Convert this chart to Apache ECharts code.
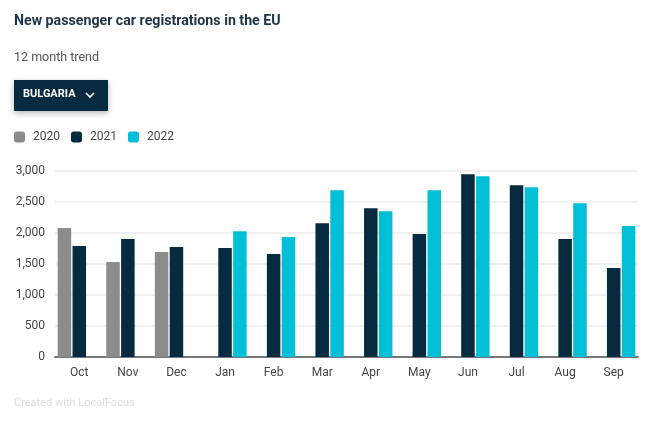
<!DOCTYPE html>
<html><head><meta charset="utf-8">
<script src="https://cdn.jsdelivr.net/npm/echarts@6/dist/echarts.min.js"></script>
<style>html,body{margin:0;padding:0;background:#fff}#c{width:672px;height:428px}</style>
</head><body><div id="c"></div>
<script>
const categories = ['Oct','Nov','Dec','Jan','Feb','Mar','Apr','May','Jun','Jul','Aug','Sep'];
const s2020 = [2080, 1532, 1693, null, null, null, null, null, null, null, null, null];
const s2021 = [1790, 1902, 1773, 1757, 1660, 2159, 2400, 1982, 2947, 2770, 1902, 1436];
const s2022 = [null, null, null, 2030, 1934, 2690, 2352, 2690, 2915, 2738, 2481, 2111];
const yTicks = [0, 500, 1000, 1500, 2000, 2500, 3000];

const chart = echarts.init(document.getElementById('c'));
const F = 'Roboto, sans-serif';
chart.setOption({
  animation: false,
  textStyle: {fontFamily: F},
  graphic: [
    {type:'text', left:14, top:14, style:{text:'New passenger car registrations in the EU', fill:'#1f3344', font:'bold 14.2px Roboto'}},
    {type:'text', left:14, top:51, style:{text:'12 month trend', fill:'#555', font:'12.5px Roboto'}},
    {type:'rect', shape:{x:14,y:80,width:94,height:31}, style:{fill:'#062b40', shadowBlur:6, shadowColor:'rgba(0,0,0,0.3)', shadowOffsetY:2}},
    {type:'text', left:23, top:89, style:{text:'BULGARIA', fill:'#fff', font:'bold 11px Roboto'}},
    {type:'polyline', shape:{points:[[86,93],[90,97],[94,93]]}, style:{stroke:'#fff', lineWidth:1.6, fill:null}},
    {type:'text', left:14, top:398, style:{text:'Created with LocalFocus', fill:'#dcdcdc', font:'11px Roboto'}}
  ],
  legend: {
    left: 14, top: 131, padding: 0, itemWidth: 11, itemHeight: 11, itemGap: 11,
    icon: 'roundRect',
    textStyle: {color:'#444', fontSize: 12, fontFamily: F, padding:[0,0,0,3]},
    data: ['2020','2021','2022']
  },
  grid: {left: 55, right: 34, top: 171, bottom: 71},
  xAxis: {
    type: 'category', data: categories,
    axisLine: {lineStyle: {color:'#777', width: 2}},
    axisTick: {show: false},
    axisLabel: {color:'#444', fontSize: 12, margin: 10, fontFamily: F}
  },
  yAxis: {
    type: 'value', min: 0, max: 3000, interval: 500,
    axisLine: {show:false}, axisTick: {show:false},
    splitLine: {lineStyle: {color:'#ebebeb', width: 1.5}},
    axisLabel: {color:'#444', fontSize: 12, margin: 10, fontFamily: F,
      formatter: v => v.toLocaleString('en-US')}
  },
  series: [
    {name:'2020', type:'bar', data:s2020, itemStyle:{color:'#8c8c8c'}, barGap:'10%', barCategoryGap:'11%'},
    {name:'2021', type:'bar', data:s2021, itemStyle:{color:'#062b40'}},
    {name:'2022', type:'bar', data:s2022, itemStyle:{color:'#00bfd6'}}
  ]
});
</script></body></html>
